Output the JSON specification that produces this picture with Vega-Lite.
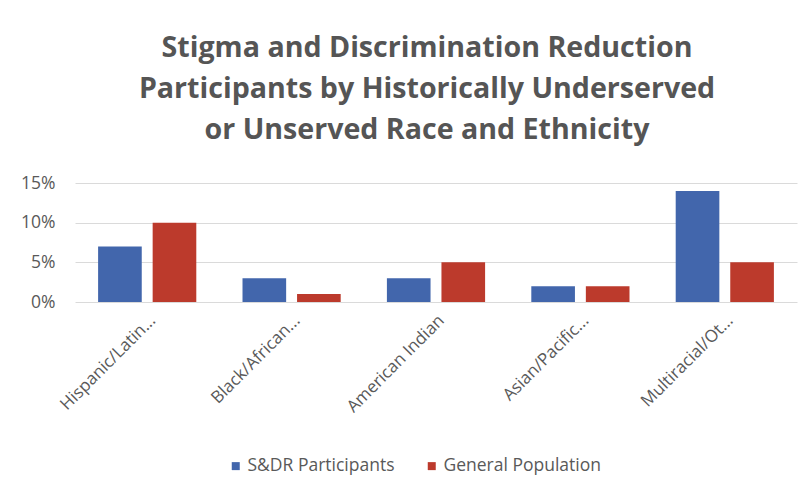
{
  "$schema": "https://vega.github.io/schema/vega-lite/v6.json",
  "autosize": {"type": "none"},
  "width": 722,
  "height": 119,
  "padding": {"left": 75, "top": 183, "right": 14, "bottom": 198},
  "background": "white",
  "title": {
    "text": ["Stigma and Discrimination Reduction", "Participants by Historically Underserved", "or Unserved Race and Ethnicity"],
    "font": "Open Sans",
    "fontSize": 28.6,
    "fontWeight": "bold",
    "color": "#555555",
    "lineHeight": 41,
    "anchor": "middle",
    "offset": 29,
    "dx": -9
  },
  "data": {
    "values": [
      {"group": "Hispanic/Latin...", "series": "S&DR Participants", "value": 0.07},
      {"group": "Hispanic/Latin...", "series": "General Population", "value": 0.10},
      {"group": "Black/African...", "series": "S&DR Participants", "value": 0.03},
      {"group": "Black/African...", "series": "General Population", "value": 0.01},
      {"group": "American Indian", "series": "S&DR Participants", "value": 0.03},
      {"group": "American Indian", "series": "General Population", "value": 0.05},
      {"group": "Asian/Pacific...", "series": "S&DR Participants", "value": 0.02},
      {"group": "Asian/Pacific...", "series": "General Population", "value": 0.02},
      {"group": "Multiracial/Ot...", "series": "S&DR Participants", "value": 0.14},
      {"group": "Multiracial/Ot...", "series": "General Population", "value": 0.05}
    ]
  },
  "mark": {"type": "bar"},
  "encoding": {
    "x": {
      "field": "group",
      "type": "nominal",
      "sort": null,
      "title": null,
      "scale": {"paddingInner": 0.32, "paddingOuter": 0.16},
      "axis": {
        "labelAngle": -45,
        "labelAlign": "right",
        "labelBaseline": "top",
        "labelFont": "Open Sans",
        "labelFontSize": 17,
        "labelColor": "#595959",
        "labelPadding": 10,
        "ticks": false,
        "domain": false,
        "grid": false
      }
    },
    "xOffset": {
      "field": "series",
      "type": "nominal",
      "sort": ["S&DR Participants", "General Population"],
      "scale": {"paddingInner": 0.2}
    },
    "y": {
      "field": "value",
      "type": "quantitative",
      "title": null,
      "scale": {"domain": [0, 0.15]},
      "axis": {
        "values": [0, 0.05, 0.1, 0.15],
        "format": ".0%",
        "labelFont": "Open Sans",
        "labelFontSize": 17.5,
        "labelColor": "#595959",
        "labelPadding": 20,
        "ticks": false,
        "domain": false,
        "grid": true,
        "gridColor": "#DADADA",
        "gridWidth": 1
      }
    },
    "color": {
      "field": "series",
      "type": "nominal",
      "sort": ["S&DR Participants", "General Population"],
      "scale": {"domain": ["S&DR Participants", "General Population"], "range": ["#4266AC", "#BC3A2C"]},
      "legend": {
        "title": null,
        "orient": "none",
        "direction": "horizontal",
        "legendX": 152,
        "legendY": 274,
        "symbolType": "square",
        "symbolSize": 64,
        "labelFont": "Open Sans",
        "labelFontSize": 17.5,
        "labelColor": "#595959",
        "columnPadding": 28,
        "labelOffset": 3
      }
    }
  },
  "config": {"view": {"stroke": null}}
}
